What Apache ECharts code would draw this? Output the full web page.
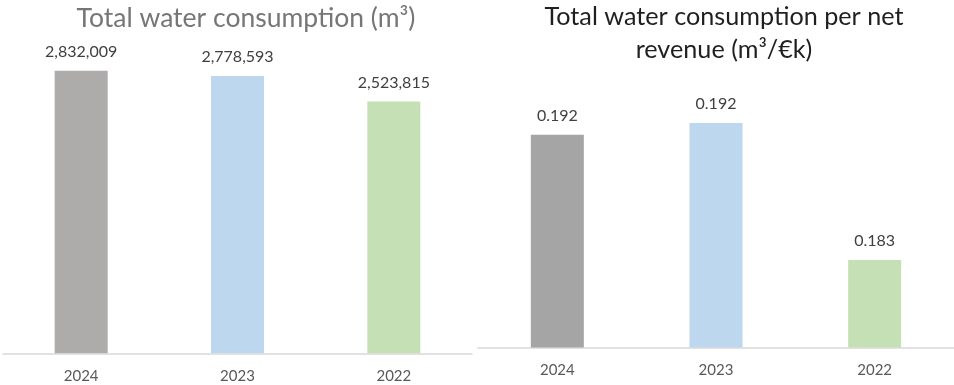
<!DOCTYPE html>
<html>
<head>
<meta charset="utf-8">
<script src="https://cdn.jsdelivr.net/npm/echarts@6/dist/echarts.min.js"></script>
<style>
  html, body { margin: 0; padding: 0; background: #ffffff; }
  #chart { width: 954px; height: 385px; }
</style>
</head>
<body>
<div id="chart"></div>
<script>
// Years shown on both charts
const years = ['2024', '2023', '2022'];

// Total water consumption, m³
const waterTotal = [2832009, 2778593, 2523815];

// Water consumption per net revenue, m³/€k
const waterPerRevenue = [0.1916, 0.1924, 0.1830];

// Bar colours per year
const totalColors = ['#AEABAB', '#BDD7EE', '#C5E0B4'];
const ratioColors = ['#A5A5A5', '#BDD7EE', '#C5E0B4'];

const FONT = 'Lato';

function coloured(values, colors) {
  return values.map((v, i) => ({ value: v, itemStyle: { color: colors[i] } }));
}

const chart = echarts.init(document.getElementById('chart'), null, { renderer: 'canvas' });

const xAxisBase = {
  type: 'category',
  axisTick: { show: false },
  axisLine: { lineStyle: { color: '#D9D9D9', width: 1.5 } },
  axisLabel: { color: '#595959', fontSize: 15, fontFamily: FONT, margin: 15 },
  splitLine: { show: false }
};

chart.setOption({
  animation: false,
  title: [
    {
      text: 'Total water consumption (m³)',
      left: 241,
      top: 0,
      textAlign: 'center',
      textStyle: { color: '#767676', fontSize: 26.5, fontWeight: 'normal', fontFamily: FONT }
    },
    {
      text: 'Total water consumption per net\nrevenue (m³/€k)',
      left: 719,
      top: -5,
      textAlign: 'center',
      textStyle: { color: '#1F1F1F', fontSize: 25.2, fontWeight: 'normal', fontFamily: FONT, lineHeight: 33 }
    }
  ],
  grid: [
    { left: 3, width: 469, top: 54, height: 299.3 },
    { left: 478, width: 476, top: 85.2, height: 262.3 }
  ],
  xAxis: [
    Object.assign({ gridIndex: 0, data: years }, xAxisBase),
    Object.assign({ gridIndex: 1, data: years }, xAxisBase)
  ],
  yAxis: [
    { gridIndex: 0, type: 'value', min: 0, max: 3000000, show: false, splitLine: { show: false } },
    { gridIndex: 1, type: 'value', min: 0.177, max: 0.195, show: false, splitLine: { show: false } }
  ],
  series: [
    {
      type: 'bar',
      xAxisIndex: 0,
      yAxisIndex: 0,
      barWidth: 53,
      data: coloured(waterTotal, totalColors),
      label: {
        show: true,
        position: 'top',
        distance: 11,
        color: '#404040',
        fontSize: 16,
        fontFamily: FONT,
        formatter: p => p.value.toLocaleString('en-US')
      }
    },
    {
      type: 'bar',
      xAxisIndex: 1,
      yAxisIndex: 1,
      barWidth: 53,
      data: coloured(waterPerRevenue, ratioColors),
      label: {
        show: true,
        position: 'top',
        distance: 11,
        color: '#404040',
        fontSize: 16,
        fontFamily: FONT,
        formatter: p => p.value.toFixed(3)
      }
    }
  ]
});
</script>
</body>
</html>
